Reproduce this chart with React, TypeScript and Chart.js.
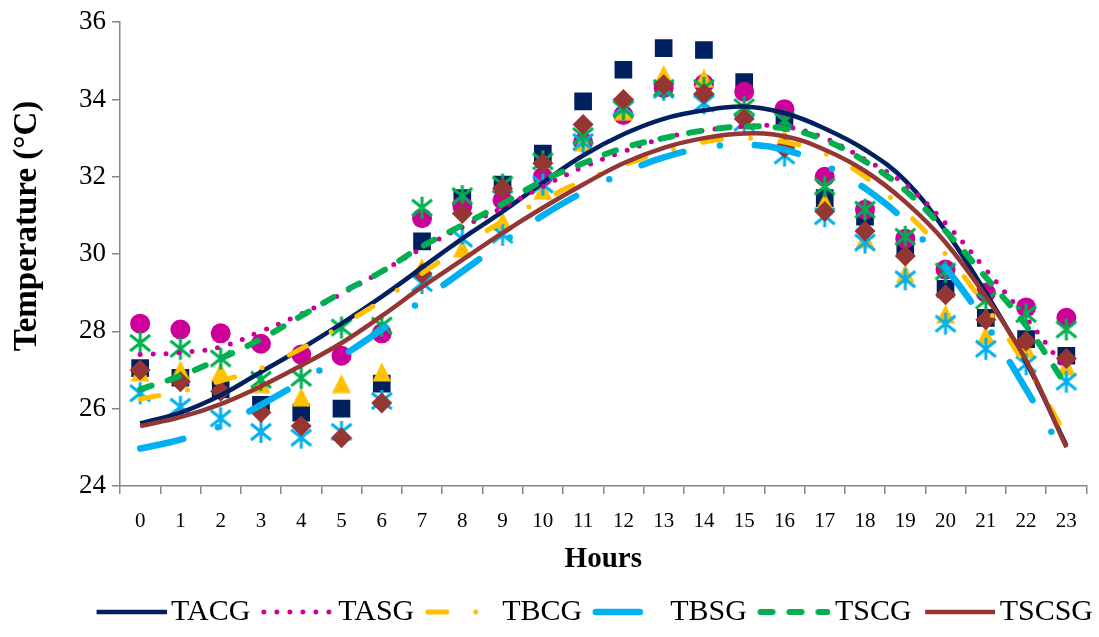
import React, { useEffect, useRef } from 'react';
import { Chart, registerables } from 'chart.js';

Chart.register(...registerables);

const hours = [0, 1, 2, 3, 4, 5, 6, 7, 8, 9, 10, 11, 12, 13, 14, 15, 16, 17, 18, 19, 20, 21, 22, 23];
const seriesNames = ['TACG', 'TASG', 'TBCG', 'TBSG', 'TSCG', 'TSCSG'];
const yTicks = [24, 26, 28, 30, 32, 34, 36];
const yTitle = 'Temperature (°C)';
const xTitle = 'Hours';

// measured values (markers)
const tacg = [27.05, 26.8, 26.5, 26.1, 25.9, 26.0, 26.65, 30.33, 31.45, 31.8, 32.6, 33.95, 34.77, 35.33, 35.28, 34.45, 33.5, 31.45, 30.97, 30.15, 29.1, 28.35, 27.8, 27.37];
const tasg = [28.2, 28.05, 27.95, 27.68, 27.4, 27.37, 27.95, 30.93, 31.25, 31.4, 32.0, 32.9, 33.6, 34.3, 34.4, 34.2, 33.75, 32.0, 31.15, 30.4, 29.6, 29.0, 28.62, 28.35];
const tbcg = [26.95, 27.0, 26.95, 26.65, 26.3, 26.65, 26.95, 29.65, 30.15, 30.85, 31.65, 32.9, 33.7, 34.65, 34.55, 33.7, 33.0, 31.35, 30.4, 29.5, 28.45, 27.9, 27.55, 27.1];
const tbsg = [26.4, 26.05, 25.75, 25.4, 25.25, 25.4, 26.2, 29.25, 30.4, 30.5, 31.8, 32.9, 33.8, 34.25, 33.9, 33.4, 32.55, 30.98, 30.3, 29.35, 28.2, 27.55, 27.15, 26.7];
const tscg = [27.7, 27.55, 27.3, 26.75, 26.8, 28.1, 28.15, 31.2, 31.5, 31.8, 32.4, 33.05, 33.75, 34.3, 34.3, 33.8, 33.45, 31.75, 31.15, 30.45, 29.55, 28.8, 28.45, 28.05];
const tscsg = [27.0, 26.7, 26.45, 25.9, 25.55, 25.25, 26.15, 29.5, 31.05, 31.7, 32.35, 33.35, 34.0, 34.38, 34.15, 33.5, 32.75, 31.1, 30.6, 29.95, 28.95, 28.3, 27.75, 27.3];

// trendline values read at each hour
const tacgTrend = [25.62, 25.9, 26.35, 26.95, 27.55, 28.2, 28.9, 29.65, 30.4, 31.1, 31.85, 32.55, 33.1, 33.5, 33.72, 33.82, 33.65, 33.25, 32.7, 31.9, 30.6, 29.0, 27.2, 25.05];
const tasgTrend = [27.4, 27.45, 27.6, 28.0, 28.45, 28.97, 29.55, 30.15, 30.7, 31.2, 31.75, 32.25, 32.65, 33.0, 33.2, 33.3, 33.3, 33.0, 32.45, 31.8, 30.8, 29.6, 28.35, 27.0];
const tbcgTrend = [26.25, 26.45, 26.72, 27.05, 27.55, 28.15, 28.8, 29.5, 30.2, 30.85, 31.4, 31.9, 32.3, 32.65, 32.9, 33.0, 32.9, 32.6, 32.0, 31.1, 30.0, 28.65, 27.1, 25.3];
const tbsgTrend = [24.97, 25.2, 25.55, 26.1, 26.7, 27.35, 28.05, 28.8, 29.55, 30.3, 31.0, 31.6, 32.1, 32.5, 32.75, 32.83, 32.7, 32.3, 31.7, 30.85, 29.65, 28.2, 26.5, 24.75];
const tscgTrend = [26.5, 26.85, 27.3, 27.8, 28.4, 29.0, 29.55, 30.2, 30.75, 31.3, 31.9, 32.35, 32.75, 33.0, 33.2, 33.3, 33.25, 32.95, 32.4, 31.65, 30.6, 29.4, 28.15, 26.6];
const tscsgTrend = [25.55, 25.78, 26.12, 26.58, 27.12, 27.7, 28.4, 29.15, 29.85, 30.55, 31.2, 31.8, 32.35, 32.75, 33.0, 33.12, 33.05, 32.7, 32.15, 31.35, 30.3, 28.9, 27.25, 25.0];

const markerValues = [tacg, tasg, tbcg, tbsg, tscg, tscsg];
const trendValues = [tacgTrend, tasgTrend, tbcgTrend, tbsgTrend, tscgTrend, tscsgTrend];

const colors = ['#002060', '#CC0099', '#FFC000', '#00B0F0', '#00B050', '#943634'];
const lineWidths = [4.5, 5, 5, 6.5, 6, 4.5];
const lineDashes: number[][] = [[], [0, 13], [19, 29, 0, 30], [44, 37, 0, 35], [12, 17], []];
const lineCaps: CanvasLineCap[] = ['butt', 'round', 'round', 'round', 'round', 'butt'];

const FONT = '"Liberation Serif", "Times New Roman", serif';

function makeStar(color: string): HTMLCanvasElement {
  const c = document.createElement('canvas');
  c.width = 26;
  c.height = 26;
  const ctx = c.getContext('2d')!;
  ctx.strokeStyle = color;
  ctx.lineWidth = 3;
  ctx.beginPath();
  ctx.moveTo(13, 2);
  ctx.lineTo(13, 24);
  ctx.moveTo(3, 5);
  ctx.lineTo(23, 21);
  ctx.moveTo(23, 5);
  ctx.lineTo(3, 21);
  ctx.stroke();
  return c;
}

function makeTriangle(color: string): HTMLCanvasElement {
  const c = document.createElement('canvas');
  c.width = 20;
  c.height = 20;
  const ctx = c.getContext('2d')!;
  ctx.fillStyle = color;
  ctx.beginPath();
  ctx.moveTo(10, 0.5);
  ctx.lineTo(19.5, 19.5);
  ctx.lineTo(0.5, 19.5);
  ctx.closePath();
  ctx.fill();
  return c;
}

function makeLegendLine(i: number): HTMLCanvasElement {
  const c = document.createElement('canvas');
  c.width = 92;
  c.height = 14;
  const ctx = c.getContext('2d')!;
  ctx.strokeStyle = colors[i];
  ctx.lineWidth = lineWidths[i];
  ctx.setLineDash(lineDashes[i]);
  ctx.lineCap = lineCaps[i];
  ctx.beginPath();
  ctx.moveTo(22, 7);
  ctx.lineTo(lineCaps[i] === 'round' ? 89 : 92, 7);
  ctx.stroke();
  return c;
}

export default function App() {
  const ref = useRef<HTMLCanvasElement | null>(null);

  useEffect(() => {
    if (!ref.current) return;
    const starBlue = makeStar(colors[3]);
    const starGreen = makeStar(colors[4]);
    const tri = makeTriangle(colors[2]);
    const pointStyles: any[] = ['rect', 'circle', tri, starBlue, starGreen, 'rectRot'];
    const pointRadii = [12.5, 10, 11, 11, 11, 10.5];
    const legendImgs = seriesNames.map((_, i) => makeLegendLine(i));

    const trendSets = seriesNames.map((name, i) => ({
      label: name,
      data: hours.map((h, k) => ({ x: h, y: trendValues[i][k] })),
      showLine: true,
      borderColor: colors[i],
      backgroundColor: colors[i],
      borderWidth: lineWidths[i],
      borderDash: lineDashes[i],
      borderCapStyle: lineCaps[i],
      pointRadius: 0,
      pointHoverRadius: 0,
      tension: 0.4,
      order: 6 - i,
      isTrend: true,
    }));
    const markerSets = seriesNames.map((name, i) => ({
      label: name + ' data',
      data: hours.map((h, k) => ({ x: h, y: markerValues[i][k] })),
      showLine: false,
      pointStyle: pointStyles[i],
      pointRadius: pointRadii[i],
      pointHoverRadius: pointRadii[i],
      pointBackgroundColor: colors[i],
      pointBorderColor: colors[i],
      pointBorderWidth: 0,
      order: 12 - i,
      isTrend: false,
    }));

    const yTitlePlugin = {
      id: 'yTitlePlugin',
      afterDraw(chart: any) {
        const ctx = chart.ctx;
        ctx.save();
        ctx.translate(27, 226);
        ctx.rotate(-Math.PI / 2);
        ctx.font = 'bold 33px ' + FONT;
        ctx.fillStyle = '#000';
        ctx.textAlign = 'center';
        ctx.textBaseline = 'middle';
        ctx.fillText(yTitle, 0, 0);
        ctx.restore();
      },
    };

    const chart = new Chart(ref.current, {
      type: 'scatter',
      data: { datasets: [...trendSets, ...markerSets] as any },
      plugins: [yTitlePlugin],
      options: {
        animation: false,
        responsive: false,
        devicePixelRatio: 1,
        layout: { padding: { top: 20, right: 4, bottom: 0, left: 0 } },
        plugins: {
          tooltip: { enabled: false },
          legend: {
            position: 'bottom',
            align: 'end',
            labels: {
              usePointStyle: true,
              pointStyleWidth: 71,
              padding: 2,
              color: '#000',
              font: { family: FONT, size: 30 },
              generateLabels: (c: any) => {
                const items = Chart.defaults.plugins.legend.labels.generateLabels(c);
                return items
                  .filter((it: any) => it.datasetIndex < 6)
                  .sort((a: any, b: any) => a.datasetIndex - b.datasetIndex)
                  .map((it: any) => ({ ...it, pointStyle: legendImgs[it.datasetIndex], fontColor: '#000' }));
              },
            },
          },
        },
        scales: {
          x: {
            type: 'linear',
            min: -0.5,
            max: 23.5,
            afterBuildTicks: (scale: any) => {
              scale.ticks = hours.map((h) => ({ value: h }));
            },
            afterFit: (scale: any) => {
              const lg = scale.chart.legend;
              scale.height = scale.chart.height - 486 - (lg ? lg.height : 0);
            },
            ticks: {
              color: '#000',
              font: { family: FONT, size: 21 },
              padding: 15,
              maxRotation: 0,
              autoSkip: false,
              callback: (v: any) => String(v),
            },
            grid: {
              display: true,
              drawOnChartArea: false,
              drawTicks: true,
              tickLength: 8,
              offset: true,
              color: '#868686',
              lineWidth: 1.5,
            },
            border: { display: true, color: '#868686', width: 1.5 },
            title: {
              display: true,
              text: xTitle,
              color: '#000',
              font: { family: FONT, size: 29, weight: 'bold' },
              padding: { top: 0, bottom: 18 },
            },
          },
          y: {
            type: 'linear',
            min: 24,
            max: 36,
            afterBuildTicks: (scale: any) => {
              scale.ticks = yTicks.map((v) => ({ value: v }));
            },
            afterFit: (scale: any) => {
              scale.width = 120;
            },
            ticks: {
              color: '#000',
              font: { family: FONT, size: 27 },
              padding: 6,
              callback: (v: any) => String(v),
            },
            grid: {
              display: true,
              drawOnChartArea: false,
              drawTicks: true,
              tickLength: 8,
              color: '#868686',
              lineWidth: 1.5,
            },
            border: { display: true, color: '#868686', width: 1.5 },
          },
        },
      } as any,
    });
    return () => chart.destroy();
  }, []);

  return (
    <div style={{ position: 'absolute', left: 0, top: 0, width: 1099, height: 637, background: '#fff' }}>
      <canvas ref={ref} width={1099} height={637} style={{ width: 1099, height: 637, display: 'block' }} />
    </div>
  );
}
